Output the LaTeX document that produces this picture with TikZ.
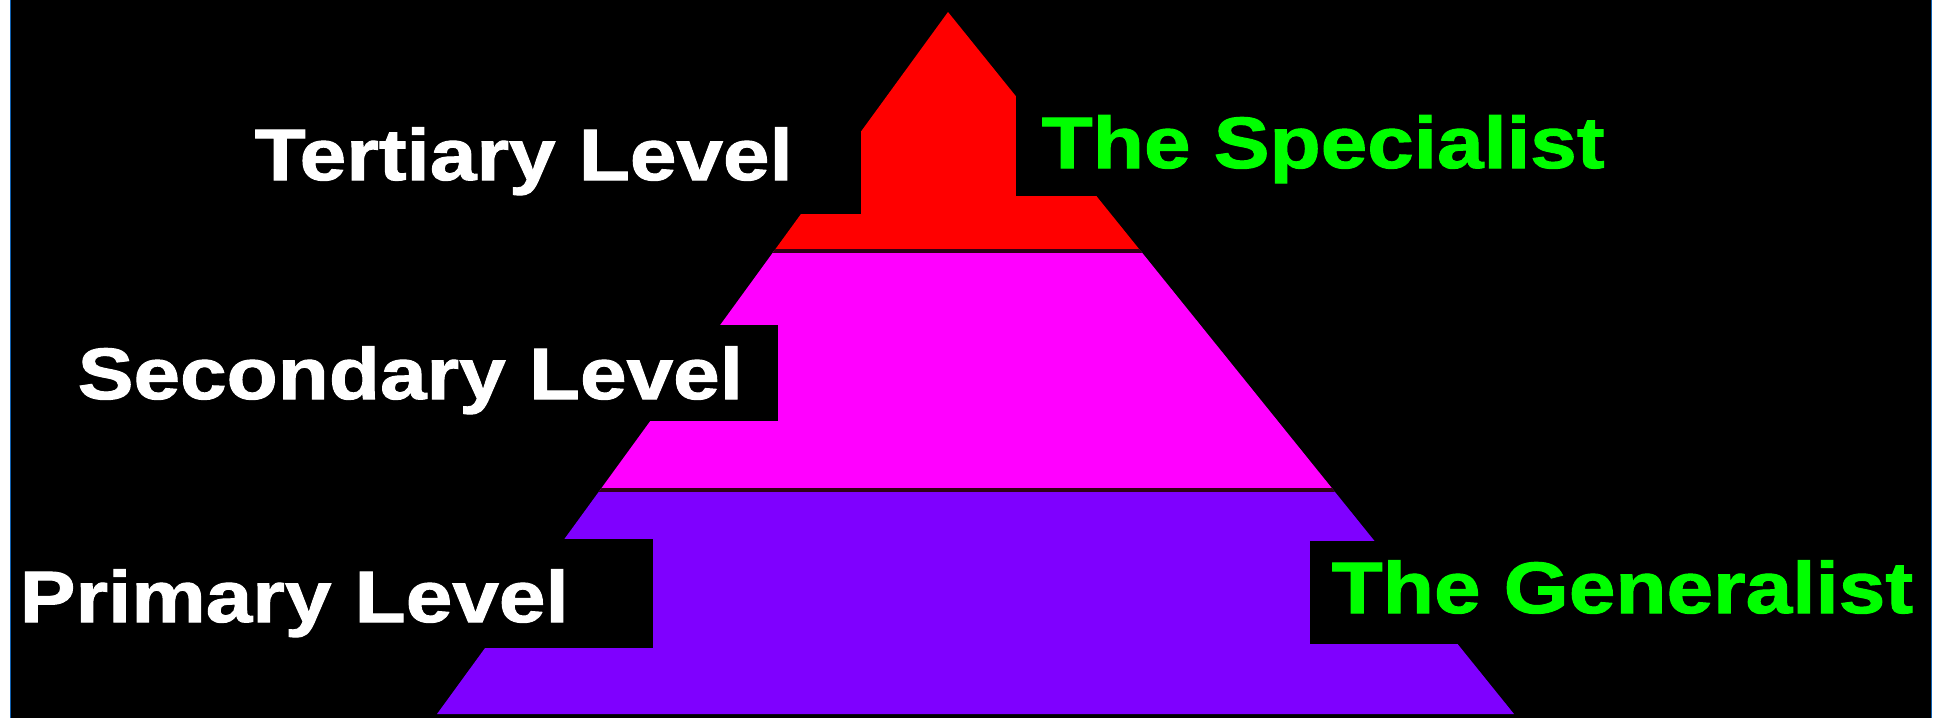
\documentclass[tikz,border=0pt]{standalone}
\usepackage{fontspec}
\newfontfamily\lvlfont{Liberation Sans}[FakeStretch=1.15,FakeBold=1.4]
\usetikzlibrary{positioning}
\definecolor{tierred}{HTML}{FF0000}
\definecolor{tiermag}{HTML}{FF00FF}
\definecolor{tierpurp}{HTML}{7F00FF}
\definecolor{taggreen}{HTML}{00FF00}
\definecolor{frameblue}{HTML}{1060B0}
\definecolor{seam}{HTML}{300018}

\begin{document}
\begin{tikzpicture}[x=0.01cm,y=-0.01cm,
  lvl/.style={font=\lvlfont\bfseries\fontsize{20.7}{24}\selectfont,text=white,anchor=base west,inner sep=0pt},
  tag/.style={lvl,text=taggreen}]
\useasboundingbox (0,0) rectangle (1943,718);
\fill[white] (0,0) rectangle (1943,718);
\fill[black] (10,0) rectangle (1932,718);

% pyramid bands
\begin{scope}
\clip (948,12) -- (1514,714) -- (437,714) -- cycle;
\fill[tierred] (400,0) rectangle (1550,251);
\fill[tiermag] (400,251) rectangle (1550,490);
\fill[tierpurp] (400,490) rectangle (1550,715);
\draw[seam,line width=0.9pt] (400,251) -- (1550,251);
\draw[seam,line width=0.9pt] (400,490) -- (1550,490);
\end{scope}

% label boxes
\fill[black] (240,60) rectangle (861,214);
\fill[black] (1016,60) rectangle (1660,196);
\fill[black] (60,325) rectangle (778,421);
\fill[black] (10,539) rectangle (653,648);
\fill[black] (1310,541) rectangle (1931,644);

\node[lvl] (tert) at (254,180) {Tertiary Level};
\node[lvl] (sec) at (77,399) {Secondary Level};
\node[lvl] (prim) at (19,622) {Primary Level};
\node[tag] (spec) at (1041,168) {The Specialist};
\node[tag] (gen) at (1331,613) {The Generalist};

\draw[frameblue,line width=0.3pt] (10.5,0) -- (10.5,718);
\draw[frameblue,line width=0.3pt] (1931.5,0) -- (1931.5,718);
\end{tikzpicture}
\end{document}
